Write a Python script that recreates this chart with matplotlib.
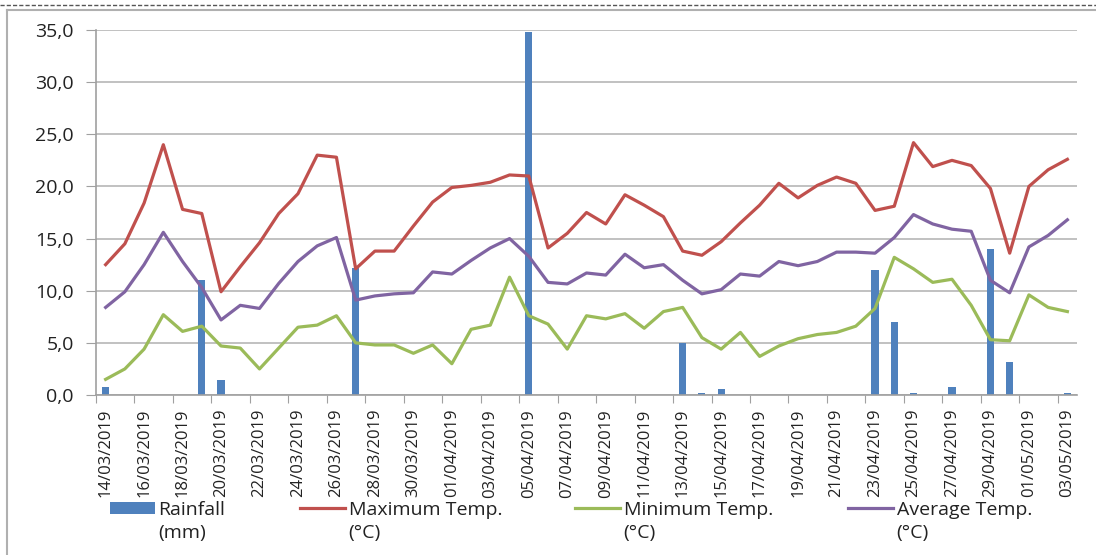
import pandas as pd
import matplotlib
matplotlib.use("Agg")
from matplotlib import pyplot as plt
from matplotlib.lines import Line2D

plt.rcParams['font.family'] = ['Open Sans', 'DejaVu Sans']

# daily dates 14/03/2019 .. 03/05/2019
dates = pd.date_range('2019-03-14', '2019-05-03', freq='D')
date_labels = [d.strftime('%d/%m/%Y') for d in dates]

rainfall = [0.8, 0, 0, 0, 0, 11.0, 1.4, 0, 0, 0,
            0, 0, 0, 12.2, 0, 0, 0, 0, 0, 0,
            0, 0, 34.8, 0, 0, 0, 0, 0, 0, 0,
            5.0, 0.2, 0.6, 0, 0, 0, 0, 0, 0, 0,
            12.0, 7.0, 0.2, 0, 0.8, 0, 14.0, 3.2, 0, 0,
            0.2]

max_temp = [12.5, 14.5, 18.4, 24.0, 17.8, 17.4, 9.9, 12.3, 14.6, 17.4,
            19.3, 23.0, 22.8, 12.1, 13.8, 13.8, 16.2, 18.5, 19.9, 20.1,
            20.4, 21.1, 21.0, 14.1, 15.5, 17.5, 16.4, 19.2, 18.2, 17.1,
            13.8, 13.4, 14.7, 16.5, 18.2, 20.3, 18.9, 20.1, 20.9, 20.3,
            17.7, 18.1, 24.2, 21.9, 22.5, 22.0, 19.8, 13.6, 20.0, 21.6,
            22.6]

min_temp = [1.5, 2.5, 4.4, 7.7, 6.1, 6.6, 4.7, 4.5, 2.5, 4.5,
            6.5, 6.7, 7.6, 5.0, 4.8, 4.8, 4.0, 4.8, 3.0, 6.3,
            6.7, 11.3, 7.6, 6.8, 4.4, 7.6, 7.3, 7.8, 6.4, 8.0,
            8.4, 5.5, 4.4, 6.0, 3.7, 4.7, 5.4, 5.8, 6.0, 6.6,
            8.3, 13.2, 12.1, 10.8, 11.1, 8.6, 5.3, 5.2, 9.6, 8.4,
            8.0]

avg_temp = [8.4, 9.9, 12.5, 15.6, 12.8, 10.3, 7.2, 8.6, 8.3, 10.7,
            12.8, 14.3, 15.1, 9.1, 9.5, 9.7, 9.8, 11.8, 11.6, 12.9,
            14.1, 15.0, 13.3, 10.8, 10.65, 11.7, 11.5, 13.5, 12.2, 12.5,
            11.0, 9.7, 10.1, 11.6, 11.4, 12.8, 12.4, 12.8, 13.7, 13.7,
            13.6, 15.1, 17.3, 16.4, 15.9, 15.7, 11.0, 9.8, 14.2, 15.3,
            16.8]

series_names = ['Rainfall', 'Maximum Temp.', 'Minimum Temp.', 'Average Temp.']
series_units = ['(mm)', '(°C)', '(°C)', '(°C)']

x = list(range(len(dates)))

fig = plt.figure(figsize=(10.96, 5.55), dpi=100)
ax = fig.add_axes([96/1096, 1 - 395/555, (1077 - 96)/1096, (395 - 30)/555])

# bars first, lines on top
bars = ax.bar(x, rainfall, width=0.37, color='#4F81BD', zorder=2)
l_max, = ax.plot(x, max_temp, color='#C0504D', lw=2.3, zorder=3)
l_min, = ax.plot(x, min_temp, color='#9BBB59', lw=2.3, zorder=3)
l_avg, = ax.plot(x, avg_temp, color='#8064A2', lw=2.3, zorder=3)

ax.set_ylim(0, 35)
ax.set_xlim(-0.5, len(x) - 0.5)
ax.set_yticks([0, 5, 10, 15, 20, 25, 30, 35])
ax.set_yticklabels([f'{v:.1f}'.replace('.', ',') for v in ax.get_yticks()])
ax.yaxis.grid(True, color='#BCBCBC', lw=1.3, zorder=0)
ax.set_axisbelow(True)

# tick marks between categories, labels on every second day
ax.set_xticks([i - 0.5 for i in range(0, len(x), 2)])
ax.set_xticklabels([])
ax.set_xticks(x[::2], minor=True)
ax.set_xticklabels(date_labels[::2], minor=True, rotation=90)
ax.tick_params(axis='x', which='major', length=6, color='#A0A0A0', direction='out')
ax.tick_params(axis='x', which='minor', length=0, pad=10, labelsize=12, labelcolor='#222222')
ax.tick_params(axis='y', length=7, color='#A0A0A0', pad=9, labelsize=14, labelcolor='#222222')

for side in ['top', 'right']:
    ax.spines[side].set_visible(False)
for side in ['left', 'bottom']:
    ax.spines[side].set_color('#A0A0A0')
    ax.spines[side].set_linewidth(1.2)

# legend: one entry per block, unit on a second line under the name
handles = [bars, l_max, l_min, l_avg]
legend_x = [110, 300, 575, 848]
for h, name, unit, lx in zip(handles, series_names, series_units, legend_x):
    leg = fig.legend([h], [name], loc='center left',
                     bbox_to_anchor=(lx/1096, 1 - 510/555),
                     frameon=False, fontsize=14, handlelength=2.3,
                     handleheight=0.6, handletextpad=0.2,
                     borderpad=0, borderaxespad=0)
    fig.text((lx + 48)/1096, 1 - 533/555, unit, fontsize=14,
             color='#222222', va='center', ha='left')
    for t in leg.get_texts():
        t.set_color('#222222')

# chart frame lines like the original screenshot
fig.add_artist(Line2D([0, 1], [1 - 5/555, 1 - 5/555], color='#555555', lw=1, ls=(0, (3, 1.5))))
fig.add_artist(Line2D([7/1096, 1], [1 - 10/555, 1 - 10/555], color='#B0B0B0', lw=1.5))
fig.add_artist(Line2D([7/1096, 7/1096], [0, 1 - 10/555], color='#B0B0B0', lw=1.5))

fig.savefig('out.png', dpi=100)
